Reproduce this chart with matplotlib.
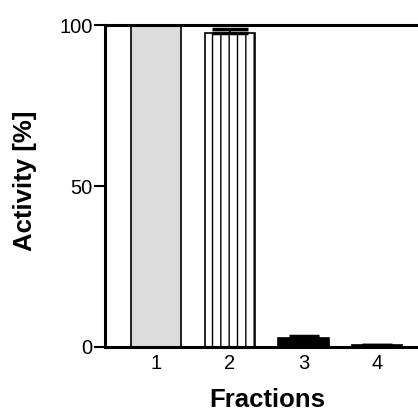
import matplotlib
matplotlib.use("Agg")
import matplotlib.pyplot as plt

categories = ["1", "2", "3", "4"]
values = [100, 97.6, 2.7, 0.5]
errors = [0, 1.2, 0.7, 0.1]
yticks = [0, 50, 100]

plt.rcParams['font.family'] = ['Liberation Sans', 'DejaVu Sans']
plt.rcParams['hatch.linewidth'] = 1.0
plt.rcParams['hatch.color'] = '#555555'

fig = plt.figure(figsize=(4.18, 4.12), dpi=100)
ax = fig.add_axes([0.251, 0.158, 0.749, 0.781])

x = [1, 2, 3, 4]
faces = ['#dcdcdc', 'white', 'black', 'black']
hatches = [None, '||', None, None]
for xi, v, e, fc, h in zip(x, values, errors, faces, hatches):
    ax.bar(xi, v, width=0.68, color=fc, edgecolor='black', linewidth=1.2, hatch=h, zorder=2)
    if e > 0:
        ax.errorbar(xi, v, yerr=[[0], [e]], fmt='none', ecolor='black', elinewidth=1.2,
                    capsize=13 if xi == 2 else 11, capthick=2.5, zorder=3)

ax.set_xlim(0.31, 4.55)
ax.set_ylim(0, 100)
ax.set_xticks(x)
ax.set_xticklabels(categories, fontsize=14.5)
ax.tick_params(axis='x', length=0, pad=5)
ax.set_yticks(yticks)
ax.set_yticklabels([str(t) for t in yticks], fontsize=14.5)
ax.tick_params(axis='y', length=8, width=1.5, pad=1, direction='out')
for s in ['left', 'bottom', 'top']:
    ax.spines[s].set_linewidth(2.2)
ax.spines['right'].set_visible(False)

ax.set_ylabel('Activity [%]', fontsize=18.5, fontweight='bold', va='center')
ax.yaxis.set_label_coords(-0.256, 0.515)
ax.set_xlabel('Fractions', fontsize=18.5, fontweight='bold', va='center')
ax.xaxis.set_label_coords(0.518, -0.165)

fig.savefig('out.png', dpi=100)
